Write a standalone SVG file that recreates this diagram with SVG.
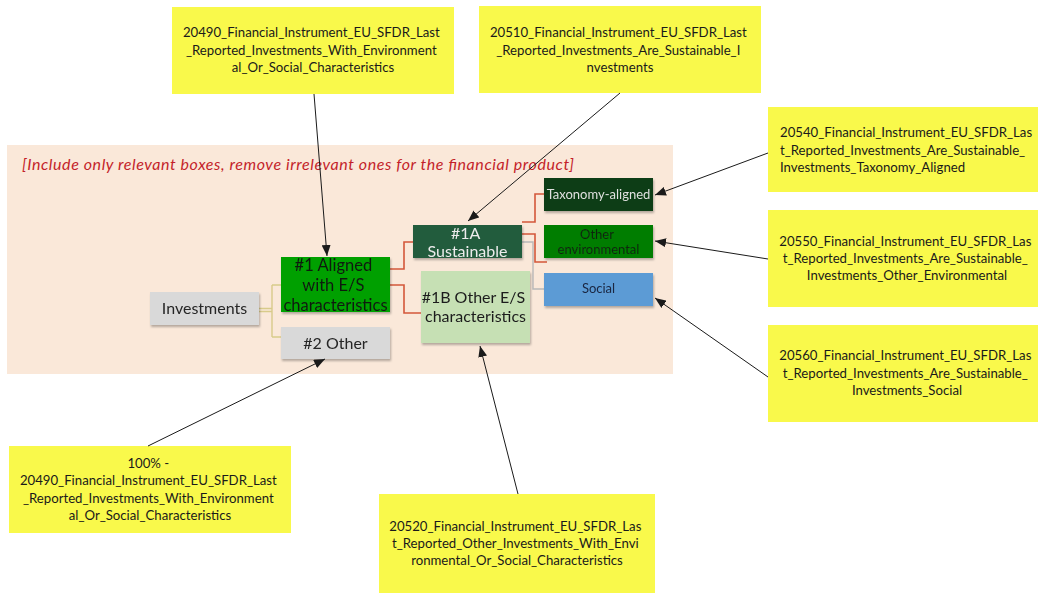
<svg xmlns="http://www.w3.org/2000/svg" width="1038" height="594" viewBox="0 0 1038 594">
  <defs>
    <style>
      .note { fill: #f9f94b; }
      .nt { font-family: Lato, "Liberation Sans", sans-serif; font-size: 13.2px; fill: #1a1a1a; }
      .lbl { font-family: Lato, "Liberation Sans", sans-serif; text-anchor: middle; }
      .arrow { stroke: #1a1a1a; stroke-width: 1; fill: none; marker-end: url(#head); }
      .red { stroke: #d4573a; stroke-width: 1.6; fill: none; }
      .tan { stroke: #d8cb8a; stroke-width: 1.4; fill: none; }
      .grey { stroke: #b8b8b8; stroke-width: 1.4; fill: none; }
    </style>
    <marker id="head" markerUnits="userSpaceOnUse" markerWidth="12" markerHeight="9" refX="11" refY="4.5" orient="auto">
      <path d="M0,0 L11,4.5 L0,9 z" fill="#1a1a1a"/>
    </marker>
    <filter id="shadow" x="-10%" y="-10%" width="130%" height="140%">
      <feDropShadow dx="1" dy="2" stdDeviation="1.2" flood-color="#000" flood-opacity="0.28"/>
    </filter>
  </defs>

  <rect width="1038" height="594" fill="#ffffff"/>

  <!-- product panel -->
  <g id="panel">
    <rect x="7" y="145" width="666" height="229" fill="#fae8d9"/>
    <text x="22" y="170" font-family="Lato, 'Liberation Sans', sans-serif" font-style="italic" font-size="16" fill="#c41f2a" textLength="552">[Include only relevant boxes, remove irrelevant ones for the financial product]</text>
  </g>

  <!-- tree connectors -->
  <g id="tree-connectors">
    <path class="tan" d="M259,308.5 H272 M259,311.5 H272 M272,285 V337 M272,285 H281 M272,337 H281"/>
    <path class="red" d="M390,269 H404 V242 H413"/>
    <path class="red" d="M390,285 H404 V313 H421"/>
    <path class="red" d="M522,222 H535 V194 H544"/>
    <path class="red" d="M522,234 H535 V262 H547"/>
    <path class="grey" d="M522,242 H533 V289 H544"/>
  </g>

  <!-- tree nodes -->
  <g id="investments" filter="url(#shadow)">
    <rect x="150" y="292" width="109" height="33" fill="#d9d9d9"/>
    <text class="lbl" x="204.5" y="314" font-size="16" fill="#262626">Investments</text>
  </g>
  <g id="other2" filter="url(#shadow)">
    <rect x="281" y="327" width="109" height="32" fill="#d9d9d9"/>
    <text class="lbl" x="335.5" y="349" font-size="16" fill="#262626">#2 Other</text>
  </g>
  <g id="aligned1" filter="url(#shadow)">
    <rect x="281" y="257" width="109" height="55" fill="#00a000"/>
    <text class="lbl" font-size="16.5" fill="#111a11">
      <tspan x="335.5" y="271">#1 Aligned</tspan>
      <tspan x="335.5" y="291">with E/S</tspan>
      <tspan x="335.5" y="310.5">characteristics</tspan>
    </text>
  </g>
  <g id="sustainable1a" filter="url(#shadow)">
    <rect x="413" y="225" width="109" height="33" fill="#245c3d"/>
    <text class="lbl" font-size="16" fill="#ececec">
      <tspan x="467.5" y="239">#1A</tspan>
      <tspan x="467.5" y="257">Sustainable</tspan>
    </text>
  </g>
  <g id="other1b" filter="url(#shadow)">
    <rect x="421" y="271" width="109" height="72" fill="#c6e0b4"/>
    <text class="lbl" font-size="16" fill="#1c1c1c">
      <tspan x="475.5" y="303">#1B Other E/S</tspan>
      <tspan x="475.5" y="322">characteristics</tspan>
    </text>
  </g>
  <g id="taxonomy" filter="url(#shadow)">
    <rect x="544" y="178" width="109" height="33" fill="#0a3d12"/>
    <text class="lbl" x="598.5" y="199" font-size="13" fill="#e0e0e0">Taxonomy-aligned</text>
  </g>
  <g id="otherenv" filter="url(#shadow)">
    <rect x="544" y="225" width="109" height="33" fill="#007d00"/>
    <text class="lbl" font-size="13" fill="#102810">
      <tspan x="598.5" y="238.5">Other</tspan>
      <tspan x="598.5" y="253.5">environmental</tspan>
    </text>
  </g>
  <g id="social" filter="url(#shadow)">
    <rect x="544" y="273" width="109" height="33" fill="#5b9bd5"/>
    <text class="lbl" x="598.5" y="293" font-size="13" fill="#1a2540">Social</text>
  </g>

  <!-- field notes -->
  <g id="note-20490">
    <rect class="note" x="172" y="7" width="282" height="87"/>
    <text class="nt" text-anchor="middle">
      <tspan x="313" y="37">20490_Financial_Instrument_EU_SFDR_Last</tspan>
      <tspan x="313" y="55">_Reported_Investments_With_Environment</tspan>
      <tspan x="313" y="72">al_Or_Social_Characteristics</tspan>
    </text>
  </g>
  <g id="note-20510">
    <rect class="note" x="479" y="6" width="282" height="87"/>
    <text class="nt" text-anchor="middle">
      <tspan x="620" y="37">20510_Financial_Instrument_EU_SFDR_Last</tspan>
      <tspan x="620" y="55">_Reported_Investments_Are_Sustainable_I</tspan>
      <tspan x="620" y="72">nvestments</tspan>
    </text>
  </g>
  <g id="note-20540">
    <rect class="note" x="768" y="107" width="270" height="85"/>
    <text class="nt">
      <tspan x="780" y="137">20540_Financial_Instrument_EU_SFDR_Las</tspan>
      <tspan x="780" y="155">t_Reported_Investments_Are_Sustainable_</tspan>
      <tspan x="780" y="172">Investments_Taxonomy_Aligned</tspan>
    </text>
  </g>
  <g id="note-20550">
    <rect class="note" x="768" y="210" width="270" height="97"/>
    <text class="nt" text-anchor="middle">
      <tspan x="907" y="246">20550_Financial_Instrument_EU_SFDR_Las</tspan>
      <tspan x="907" y="263">t_Reported_Investments_Are_Sustainable_</tspan>
      <tspan x="907" y="280">Investments_Other_Environmental</tspan>
    </text>
  </g>
  <g id="note-20560">
    <rect class="note" x="768" y="325" width="270" height="97"/>
    <text class="nt" text-anchor="middle">
      <tspan x="907" y="360">20560_Financial_Instrument_EU_SFDR_Las</tspan>
      <tspan x="907" y="378">t_Reported_Investments_Are_Sustainable_</tspan>
      <tspan x="907" y="395">Investments_Social</tspan>
    </text>
  </g>
  <g id="note-100">
    <rect class="note" x="9" y="446" width="282" height="87"/>
    <text class="nt" text-anchor="middle">
      <tspan x="150" y="468">100% -</tspan>
      <tspan x="150" y="485">20490_Financial_Instrument_EU_SFDR_Last</tspan>
      <tspan x="150" y="503">_Reported_Investments_With_Environment</tspan>
      <tspan x="150" y="520">al_Or_Social_Characteristics</tspan>
    </text>
  </g>
  <g id="note-20520">
    <rect class="note" x="379" y="494" width="276" height="99"/>
    <text class="nt" text-anchor="middle">
      <tspan x="517" y="531">20520_Financial_Instrument_EU_SFDR_Las</tspan>
      <tspan x="517" y="548">t_Reported_Other_Investments_With_Envi</tspan>
      <tspan x="517" y="565">ronmental_Or_Social_Characteristics</tspan>
    </text>
  </g>

  <!-- note-to-node arrows -->
  <g id="connectors">
    <line class="arrow" x1="314" y1="94" x2="327" y2="256"/>
    <line class="arrow" x1="620" y1="93" x2="468" y2="221"/>
    <line class="arrow" x1="768" y1="153" x2="655" y2="195"/>
    <line class="arrow" x1="768" y1="259" x2="655" y2="241"/>
    <line class="arrow" x1="768" y1="377" x2="655" y2="298"/>
    <line class="arrow" x1="148" y1="446" x2="325" y2="359"/>
    <line class="arrow" x1="518" y1="494" x2="480" y2="346"/>
  </g>
</svg>
